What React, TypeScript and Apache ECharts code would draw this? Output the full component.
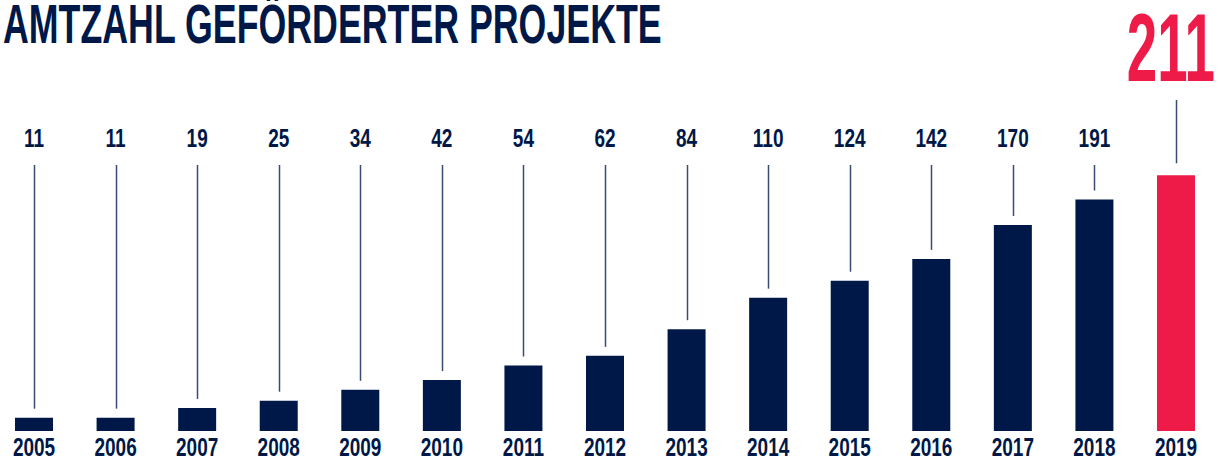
import React, { useEffect, useRef } from "react";
import * as echarts from "echarts";

const years = ["2005", "2006", "2007", "2008", "2009", "2010", "2011", "2012", "2013", "2014", "2015", "2016", "2017", "2018", "2019"];
const projects = [11, 11, 19, 25, 34, 42, 54, 62, 84, 110, 124, 142, 170, 191, 211];
const titleText = "AMTZAHL GEFÖRDERTER PROJEKTE";

const NAVY = "#001847";
const RED = "#ee1a48";
const LINE = "#3b4a72";
const FONT = "'Liberation Sans', Arial, sans-serif";

export default function App() {
  const ref = useRef<HTMLDivElement>(null);
  useEffect(() => {
    const chart = echarts.init(ref.current!, null, { renderer: "svg" });
    const last = projects.length - 1;
    chart.setOption({
      animation: false,
      backgroundColor: "#ffffff",
      grid: { left: 0, right: 0, bottom: 31, top: 128, containLabel: false },
      xAxis: {
        type: "value",
        min: -0.417,
        max: 14.515,
        show: false,
        splitLine: { show: false },
      },
      yAxis: { type: "value", min: 0, max: 250, show: false, splitLine: { show: false } },
      graphic: [
        {
          type: "text",
          x: 3,
          y: 24,
          scaleX: 0.65,
          style: {
            text: titleText,
            fill: NAVY,
            font: `bold 55px ${FONT}`,
            lineHeight: 44,
            textAlign: "left",
            textVerticalAlign: "middle",
          },
        },
      ],
      series: [
        {
          type: "bar",
          data: projects.map((v, i) => ({ value: [i, v], itemStyle: { color: i === last ? RED : NAVY } })),
          barWidth: 38,
        },
        {
          type: "custom",
          data: projects.map((v, i) => [i, v]),
          renderItem: (params: any, api: any) => {
            const i = api.value(0);
            const v = api.value(1);
            const p = api.coord([i, v]);
            const isLast = params.dataIndex === last;
            const x = Math.round(p[0]) + 0.5;
            return {
              type: "group",
              children: [
                {
                  type: "line",
                  shape: { x1: x, y1: isLast ? 100 : 165, x2: x, y2: p[1] - (isLast ? 12 : 9) },
                  style: { stroke: LINE, lineWidth: 1.5 },
                },
                {
                  type: "text",
                  x: isLast ? 1215 : p[0],
                  y: isLast ? 47.5 : 139,
                  scaleX: isLast ? 0.57 : 0.76,
                  style: {
                    text: String(v),
                    x: 0,
                    y: 0,
                    textAlign: isLast ? "right" : "center",
                    textVerticalAlign: "middle",
                    fill: isLast ? RED : NAVY,
                    font: isLast ? `bold 96px ${FONT}` : `bold 25px ${FONT}`,
                    lineHeight: isLast ? 88 : 28,
                  },
                },
                {
                  type: "text",
                  x: p[0],
                  y: 448,
                  scaleX: 0.76,
                  style: {
                    text: years[params.dataIndex],
                    x: 0,
                    y: 0,
                    textAlign: "center",
                    textVerticalAlign: "middle",
                    fill: NAVY,
                    font: `bold 25px ${FONT}`,
                    lineHeight: 26,
                  },
                },
              ],
            };
          },
          z: 5,
        },
      ],
    });
    return () => chart.dispose();
  }, []);
  return <div ref={ref} style={{ position: "fixed", left: 0, top: 0, width: 1218, height: 462 }} />;
}
